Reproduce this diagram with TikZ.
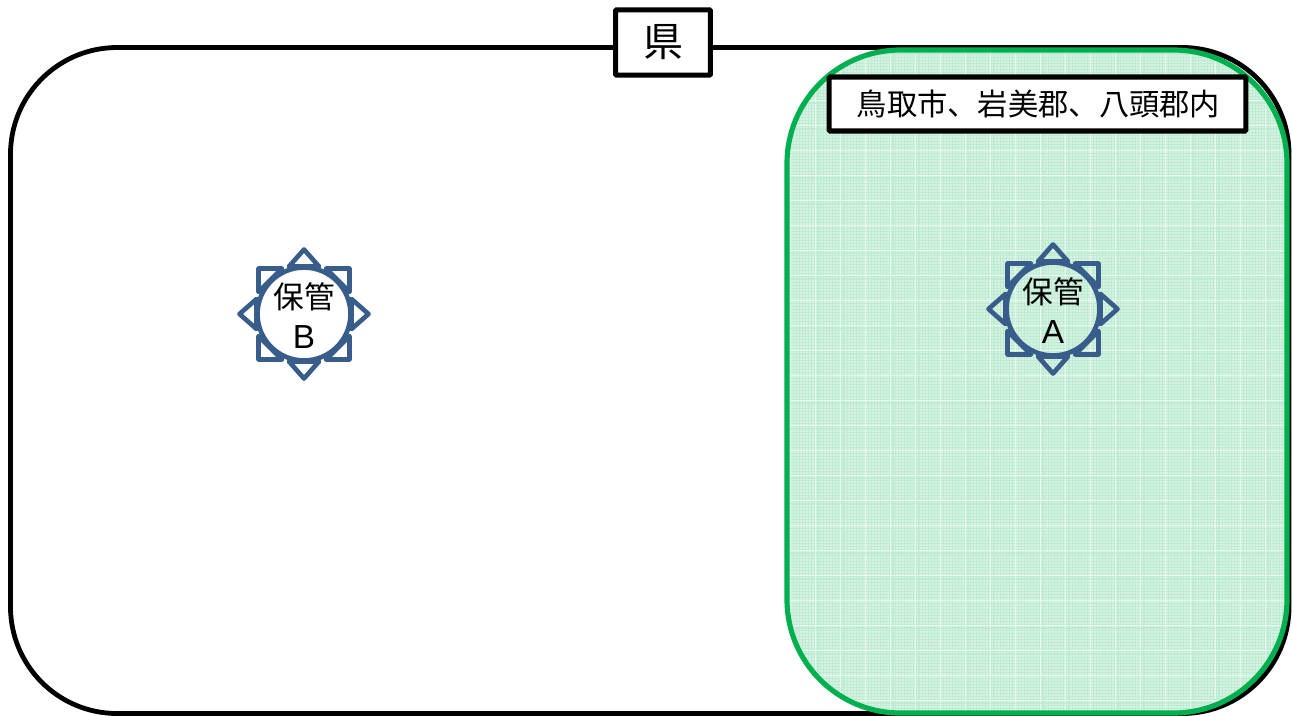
\documentclass[tikz,border=0pt]{standalone}
\usepackage{fontspec}
\setmainfont{Noto Sans CJK JP}
\newfontfamily\latinf{Liberation Sans}
\definecolor{sunblue}{HTML}{385D8A}
\definecolor{greenedge}{HTML}{00B050}
\definecolor{greenbase}{HTML}{D8F3E4}
\definecolor{greenline}{HTML}{BDECD3}
\newcommand{\sunshape}[2]{%
  \begin{scope}[shift={(#1,#2)}]
    \draw[sunline] (0,0) circle (46.5);
    \foreach \a in {0,90,180,270}{
      \draw[sunline,rotate=\a] (-15,-47.5) -- (0,-64.5) -- (15,-47.5) -- cycle;
      \draw[sunline,rotate=\a] (-45.5,-45.5) -- (-22,-45.5) -- (-45.5,-22) -- cycle;
    }
  \end{scope}}
\tikzset{
  x=0.75pt,y=-0.75pt,
  sunline/.style={draw=sunblue,line width=3.5pt,line join=round},
  blackbox/.style={draw=black,fill=white,line width=3.8pt,rounded corners=0.8pt,inner sep=0pt,text=black,align=center},
  sunlabel/.style={inner sep=0pt,align=center,font=\fontsize{23}{26}\selectfont}
}
\begin{document}
\begin{tikzpicture}
\useasboundingbox (0,0) rectangle (1292,715);
\fill[white] (0,0) rectangle (1292,715);
% outer prefecture outline
\draw[black,line width=3.6pt,rounded corners=80pt] (10.5,47.5) rectangle (1289,713.5);
% green area with fine grid
\begin{scope}
  \clip[rounded corners=85pt] (787,50) rectangle (1287,713);
  \fill[greenbase] (780,40) rectangle (1295,720);
  \foreach \x in {787,790,...,1292}{\draw[greenline,line width=0.25pt] (\x,40) -- (\x,720);}
  \foreach \y in {48,51,...,717}{\draw[greenline,line width=0.25pt] (780,\y) -- (1295,\y);}
  \foreach \x in {790,815,...,1292}{
    \draw[white,opacity=.6,line width=0.3pt] (\x,40) -- (\x,720);
    \draw[greenline,line width=0.4pt] (\x+3,40) -- (\x+3,720);}
  \foreach \y in {50,75,...,717}{
    \draw[white,opacity=.6,line width=0.3pt] (780,\y) -- (1295,\y);
    \draw[greenline,line width=0.4pt] (780,\y+3) -- (1295,\y+3);}
\end{scope}
\draw[greenedge,line width=3.9pt,rounded corners=85pt] (787,50) rectangle (1287,713);
% labels
\node[blackbox,minimum width=71pt,minimum height=49pt,font=\fontsize{30}{32}\selectfont] (ken) at (663,42.5) {県};
\node[blackbox,minimum width=312.5pt,minimum height=40.5pt,font=\fontsize{22.7}{26}\selectfont] (area) at (1037.5,104) {\hspace{1.5pt}鳥取市、岩美郡、八頭郡内};
% suns
\sunshape{304}{314}
\sunshape{1053}{309}
\node[sunlabel] (hokanb) at (304,297) {保管};
\node[sunlabel,font=\latinf\fontsize{25}{26}\selectfont] (labelb) at (304,337) {B};
\node[sunlabel] (hokana) at (1053,292) {保管};
\node[sunlabel,font=\latinf\fontsize{25}{26}\selectfont] (labela) at (1053,332) {A};
\end{tikzpicture}
\end{document}
